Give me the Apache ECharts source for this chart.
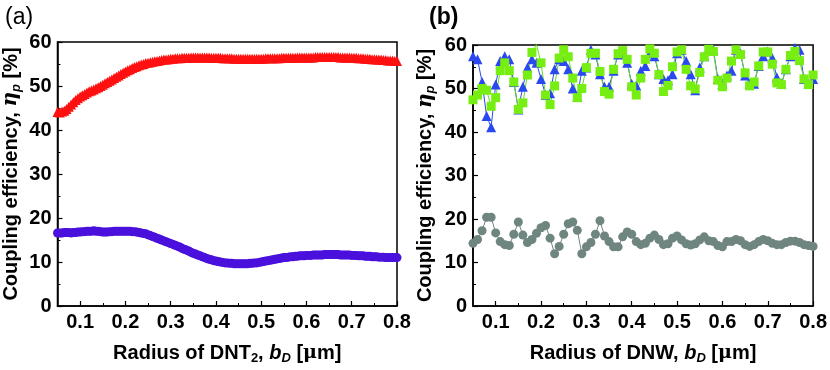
<!DOCTYPE html>
<html><head><meta charset="utf-8">
<script src="https://cdn.jsdelivr.net/npm/echarts@6/dist/echarts.min.js"></script>
<style>html,body{margin:0;padding:0;background:#fff}#c{width:830px;height:370px}</style>
</head><body><div id="c"></div>
<script>
// ---- Panel (a): radius grid 0.05..0.80 step 0.005 ----
const aStart = 0.05, aStep = 0.005;
const aRed = [
44.1,44.0,44.2,44.4,44.8,45.3,45.8,46.3,46.8,47.2,
47.6,47.9,48.2,48.5,48.8,49.0,49.2,49.5,49.7,50.0,
50.3,50.6,50.9,51.2,51.5,51.8,52.1,52.4,52.7,53.0,
53.3,53.6,53.8,54.1,54.3,54.5,54.7,54.9,55.0,55.2,
55.3,55.4,55.5,55.6,55.7,55.8,55.9,56.0,56.0,56.1,
56.2,56.2,56.3,56.3,56.3,56.4,56.4,56.4,56.4,56.5,
56.5,56.5,56.5,56.5,56.5,56.5,56.5,56.5,56.4,56.4,
56.4,56.4,56.4,56.3,56.3,56.3,56.3,56.3,56.2,56.2,
56.2,56.2,56.2,56.2,56.2,56.2,56.2,56.2,56.2,56.2,
56.2,56.2,56.3,56.3,56.3,56.3,56.3,56.3,56.3,56.4,
56.4,56.4,56.4,56.4,56.4,56.4,56.5,56.5,56.5,56.5,
56.5,56.5,56.5,56.5,56.6,56.6,56.6,56.6,56.6,56.6,
56.6,56.6,56.6,56.6,56.6,56.5,56.5,56.5,56.5,56.5,
56.4,56.4,56.4,56.3,56.3,56.3,56.2,56.2,56.2,56.1,
56.1,56.0,56.0,56.0,55.9,55.9,55.8,55.8,55.8,55.7,
55.7];
const aPurple = [
16.6,16.6,16.6,16.7,16.7,16.7,16.6,16.7,16.7,16.8,
16.8,16.9,16.9,17.0,17.0,17.0,17.1,17.0,17.0,16.9,
16.8,16.8,16.8,16.9,16.9,17.0,17.0,17.0,17.0,17.0,
17.0,17.0,17.0,16.9,16.9,16.8,16.7,16.6,16.5,16.4,
16.2,16.0,15.8,15.6,15.4,15.2,15.0,14.8,14.6,14.4,
14.2,14.0,13.8,13.6,13.4,13.1,12.9,12.7,12.5,12.2,
12.0,11.8,11.6,11.4,11.2,11.0,10.8,10.6,10.5,10.3,
10.2,10.1,10.0,9.9,9.8,9.8,9.7,9.7,9.6,9.6,
9.6,9.6,9.6,9.6,9.6,9.7,9.7,9.8,9.8,9.9,
10.0,10.1,10.2,10.3,10.4,10.5,10.6,10.7,10.8,10.9,
11.0,11.0,11.1,11.2,11.2,11.3,11.3,11.4,11.4,11.4,
11.5,11.5,11.5,11.6,11.6,11.6,11.6,11.6,11.7,11.7,
11.7,11.7,11.7,11.7,11.7,11.6,11.6,11.6,11.6,11.6,
11.5,11.5,11.5,11.4,11.4,11.4,11.3,11.3,11.3,11.2,
11.2,11.2,11.1,11.1,11.1,11.0,11.0,11.0,11.0,11.0,
11.0];

// ---- Panel (b): radius grid 0.05..0.80 step 0.01 ----
const bStart = 0.05, bStep = 0.01;
const bBlue = [
57.4,56.7,51.5,43.7,41.1,50.9,56.3,57.4,56.7,51.5,
45.2,50.4,54.8,56.7,55.9,52.2,48.5,48.9,54.4,56.7,
56.3,54.4,50.0,48.1,54.1,54.8,58.9,57.8,53.3,50.4,
50.4,54.1,57.8,58.1,55.9,51.1,50.7,54.1,55.2,58.1,
57.4,53.3,52.2,51.9,53.3,58.1,58.9,56.3,53.3,49.6,
54.8,57.4,58.9,58.9,52.2,51.1,53.0,54.1,58.9,58.1,
53.0,51.1,51.1,55.2,57.4,58.5,57.0,52.6,51.1,54.4,
57.4,59.3,58.9,52.2,51.1,52.2];
const bGreen = [
47.4,48.5,50.0,49.6,45.9,47.9,54.1,55.9,54.1,51.5,
45.2,46.7,53.1,58.3,60.1,55.9,48.5,46.3,50.6,57.0,
58.9,57.3,52.4,47.9,50.0,54.8,58.1,58.1,53.9,49.3,
48.7,54.4,58.0,58.7,56.7,50.4,48.5,52.4,56.7,59.1,
58.1,53.2,49.3,50.7,55.0,58.4,58.9,54.4,50.6,49.9,
53.7,57.3,59.0,58.5,51.9,50.4,52.4,56.3,58.9,57.8,
53.6,50.6,51.5,55.2,58.4,58.4,55.6,51.3,50.9,54.4,
57.6,58.5,56.4,52.2,50.9,53.1];
const bGray = [
14.4,15.3,17.3,20.4,20.4,16.8,14.8,14.1,13.9,16.5,
19.3,16.3,14.6,15.3,16.7,18.0,18.5,15.6,12.0,13.7,
16.5,18.9,19.3,17.4,12.0,13.6,14.6,16.5,19.6,16.1,
14.8,13.6,13.6,15.9,17.0,16.5,14.8,14.1,14.4,15.6,
16.3,15.3,14.1,14.3,15.6,16.1,15.2,14.3,14.0,14.3,
15.2,15.9,15.0,14.8,13.9,13.6,14.8,14.8,15.3,15.0,
14.1,13.7,14.1,14.8,15.3,15.0,14.4,14.1,14.1,14.6,
14.9,14.9,14.6,14.1,13.9,13.7];

// tick labels
const xTicks = [0.1,0.2,0.3,0.4,0.5,0.6,0.7,0.8];
const xMinorTicks = [0.15,0.25,0.35,0.45,0.55,0.65,0.75];
const yTicks = [0,10,20,30,40,50,60];

const FONT = 'Liberation Sans, Arial, sans-serif';
function pairs(start, step, arr){ return arr.map((v,i)=>[+(start+i*step).toFixed(3), v]); }

const lbl = {fontFamily:FONT,fontWeight:'bold',fontSize:20,color:'#000'};
const nameRich = {
  sub:{fontFamily:FONT,fontWeight:'bold',fontSize:13,color:'#000',padding:[10,0,0,0]},
  i:{fontFamily:FONT,fontStyle:'italic',fontWeight:'bold',fontSize:20,color:'#000'},
  isub:{fontFamily:FONT,fontStyle:'italic',fontWeight:'bold',fontSize:13,color:'#000',padding:[10,0,0,0]},
  mu:{fontFamily:'DejaVu Serif, serif',fontSize:19,color:'#000'}
};
function xAx(grid, name){
  return [{
    type:'value', gridIndex:grid, min:0.05, max:0.8, position:'bottom',
    name:name, nameLocation:'middle', nameGap:36,
    nameTextStyle:{fontFamily:FONT,fontWeight:'bold',fontSize:20,color:'#000',rich:nameRich},
    axisLine:{show:true,onZero:false,lineStyle:{color:'#000',width:1.5}},
    axisTick:{show:true,inside:true,length:5,customValues:xTicks,lineStyle:{color:'#000',width:1.2}},
    axisLabel:Object.assign({customValues:xTicks,margin:6,formatter:v=>String(v)},lbl),
    splitLine:{show:false}
  },{
    type:'value', gridIndex:grid, min:0.05, max:0.8, position:'bottom',
    axisLine:{show:false},
    axisTick:{show:true,inside:true,length:3,customValues:xMinorTicks,lineStyle:{color:'#000',width:1}},
    axisLabel:{show:false}, splitLine:{show:false}
  }];
}
function yAx(grid, gap){
  return {
    type:'value', gridIndex:grid, min:0, max:60, interval:10,
    name:'Coupling efficiency, {e|η}{p|p} [%]', nameLocation:'middle', nameGap:gap, nameRotate:90,
    nameTextStyle:{fontFamily:FONT,fontWeight:'bold',fontSize:20,color:'#000',
      rich:{e:{fontFamily:'DejaVu Serif, serif',fontStyle:'italic',fontSize:20,color:'#000'},
            p:{fontFamily:FONT,fontStyle:'italic',fontWeight:'bold',fontSize:13,color:'#000',padding:[10,0,0,0]}}},
    axisLine:{show:true,lineStyle:{color:'#000',width:1.5}},
    axisTick:{show:true,inside:true,length:5,lineStyle:{color:'#000',width:1.2}},
    minorTick:{show:true,splitNumber:2,length:3,lineStyle:{color:'#000',width:1}},
    axisLabel:Object.assign({margin:6},lbl),
    splitLine:{show:false}, minorSplitLine:{show:false}
  };
}

const chart = echarts.init(document.getElementById('c'), null, {renderer:'canvas'});
chart.setOption({
  animation:false,
  backgroundColor:'#fff',
  title:[
    {text:'(a)',left:0,top:1,textStyle:{fontFamily:FONT,fontWeight:'normal',fontSize:23,color:'#000'}},
    {text:'(b)',left:424,top:1,textStyle:{fontFamily:FONT,fontWeight:'bold',fontSize:23,color:'#000'}}
  ],
  grid:[
    {left:54,top:42,width:343,height:275,show:true,borderColor:'#000',borderWidth:1.5,backgroundColor:'transparent'},
    {left:473,top:45,width:342,height:270,show:true,borderColor:'#000',borderWidth:1.5,backgroundColor:'transparent'}
  ],
  xAxis:[].concat(
    xAx(0,'Radius of DNT{sub|2}, {i|b}{isub|D} [{mu|μ}m]'),
    xAx(1,'Radius of DNW, {i|b}{isub|D} [{mu|μ}m]')
  ),
  yAxis:[yAx(0,35), yAx(1,36)],
  series:[
    {type:'line',xAxisIndex:0,yAxisIndex:0,data:pairs(aStart,aStep,aRed),symbol:'triangle',symbolSize:10,
     lineStyle:{width:1,color:'#ff1010'},itemStyle:{color:'#ff1010'}},
    {type:'line',xAxisIndex:0,yAxisIndex:0,data:pairs(aStart,aStep,aPurple),symbol:'circle',symbolSize:9,
     lineStyle:{width:1,color:'#4a10dc'},itemStyle:{color:'#4a10dc'}},
    {type:'line',xAxisIndex:2,yAxisIndex:1,data:pairs(bStart,bStep,bBlue),symbol:'triangle',symbolSize:10,
     lineStyle:{width:1,color:'#2a48f0'},itemStyle:{color:'#2a48f0'}},
    {type:'line',xAxisIndex:2,yAxisIndex:1,data:pairs(bStart,bStep,bGreen),symbol:'rect',symbolSize:9,
     lineStyle:{width:1,color:'#66dd22'},itemStyle:{color:'#77ee11'}},
    {type:'line',xAxisIndex:2,yAxisIndex:1,data:pairs(bStart,bStep,bGray),symbol:'circle',symbolSize:9,
     lineStyle:{width:1,color:'#6f8580'},itemStyle:{color:'#6f8580'}}
  ]
});
</script></body></html>
